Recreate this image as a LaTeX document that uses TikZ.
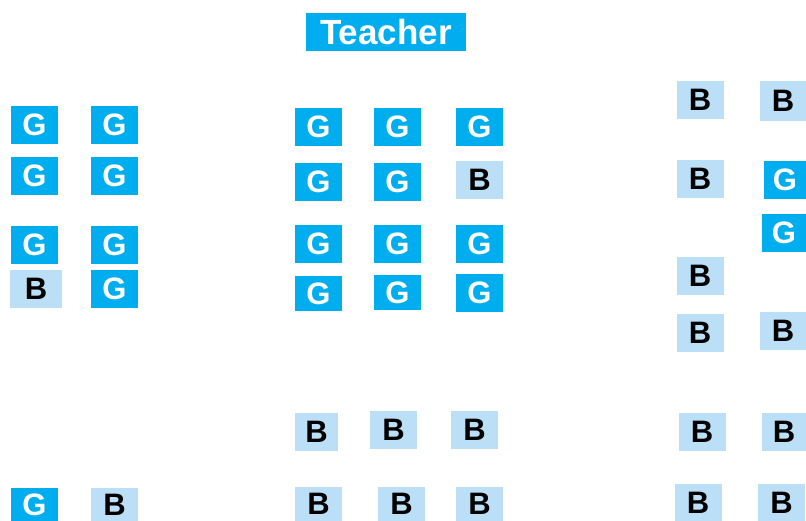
\documentclass[tikz,border=0pt]{standalone}
\usepackage{fontspec}
\setmainfont{Liberation Sans}
\definecolor{gcol}{RGB}{0,174,239}
\definecolor{bcol}{RGB}{187,223,247}
\tikzset{
  seat/.style={inner sep=0pt, minimum width=47pt, minimum height=38pt, font=\fontsize{31}{31}\selectfont\bfseries},
  gseat/.style={seat, fill=gcol, text=white},
  bseat/.style={seat, fill=bcol, text=black},
  teach/.style={inner sep=0pt, minimum width=160pt, minimum height=38pt, fill=gcol, text=white, font=\fontsize{35}{35}\selectfont\bfseries}
}
\begin{document}
\begin{tikzpicture}[x=1pt,y=-1pt]
\useasboundingbox (0,0) rectangle (806,521);
\clip (0,0) rectangle (806,521);
% teacher
\node[teach] (t) at (386,32) {Teacher};
% left group
\node[gseat] (l1) at (34.5,125) {G};
\node[gseat] (l2) at (114.5,125) {G};
\node[gseat] (l3) at (34.5,176) {G};
\node[gseat] (l4) at (114.5,176) {G};
\node[gseat] (l5) at (34.5,245) {G};
\node[gseat] (l6) at (114.5,245) {G};
\node[bseat, minimum width=52pt] (l7) at (36,289) {B};
\node[gseat] (l8) at (114.5,289) {G};
\node[gseat, minimum height=34pt] (l9) at (34.5,505) {G};
\node[bseat, minimum height=34pt] (l10) at (114.5,505) {B};
% middle group
\node[gseat] (m1) at (318.5,127) {G};
\node[gseat] (m2) at (397.5,127) {G};
\node[gseat] (m3) at (479.5,127) {G};
\node[gseat] (m4) at (318.5,182) {G};
\node[gseat] (m5) at (397.5,182) {G};
\node[bseat] (m6) at (479.5,180) {B};
\node[gseat] (m7) at (318.5,244) {G};
\node[gseat] (m8) at (397.5,244) {G};
\node[gseat] (m9) at (479.5,244) {G};
\node[gseat, minimum height=35pt] (m10) at (318.5,293.5) {G};
\node[gseat, minimum height=35pt] (m11) at (397.5,292.5) {G};
\node[gseat] (m12) at (479.5,293) {G};
\node[bseat, minimum width=43pt] (m13) at (316.5,432) {B};
\node[bseat] (m14) at (393.5,430) {B};
\node[bseat] (m15) at (474.5,430) {B};
\node[bseat, minimum height=34pt] (m16) at (318.5,504) {B};
\node[bseat, minimum height=34pt] (m17) at (401.5,504) {B};
\node[bseat, minimum height=34pt] (m18) at (479.5,504) {B};
% right group
\node[bseat] (r1) at (700,100) {B};
\node[bseat, minimum width=46pt, minimum height=40pt] (r2) at (783,101) {B};
\node[bseat] (r3) at (700,179) {B};
\node[gseat, minimum width=42pt] (r4) at (785,180) {G};
\node[gseat, minimum width=44pt] (r5) at (784,233) {G};
\node[bseat] (r6) at (700,276) {B};
\node[bseat] (r7) at (700,333) {B};
\node[bseat, minimum width=46pt] (r8) at (783,331) {B};
\node[bseat] (r9) at (702,432) {B};
\node[bseat, minimum width=44pt] (r10) at (784,432) {B};
\node[bseat] (r11) at (698,503) {B};
\node[bseat] (r12) at (781.5,503) {B};
\end{tikzpicture}
\end{document}
